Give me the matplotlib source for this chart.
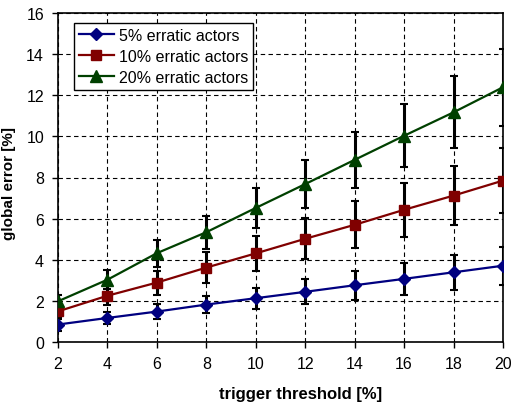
import matplotlib
matplotlib.use("Agg")
import matplotlib.pyplot as plt

plt.rcParams['font.family'] = ['Liberation Sans', 'DejaVu Sans']

thresholds = [2, 4, 6, 8, 10, 12, 14, 16, 18, 20]
err5 = [0.85, 1.17, 1.48, 1.82, 2.13, 2.44, 2.76, 3.07, 3.39, 3.71]
err5_sd = [0.30, 0.31, 0.36, 0.42, 0.52, 0.60, 0.70, 0.77, 0.86, 0.93]
err10 = [1.49, 2.25, 2.89, 3.62, 4.31, 5.02, 5.70, 6.43, 7.12, 7.85]
err10_sd = [0.36, 0.45, 0.58, 0.75, 0.86, 0.99, 1.14, 1.30, 1.42, 1.57]
err20 = [1.98, 3.03, 4.32, 5.34, 6.52, 7.68, 8.86, 10.03, 11.17, 12.39]
err20_sd = [0.30, 0.45, 0.65, 0.80, 0.99, 1.17, 1.37, 1.53, 1.75, 1.87]
labels = ['5% erratic actors', '10% erratic actors', '20% erratic actors']

fig = plt.figure(figsize=(5.13, 4.06), dpi=100)
ax = fig.add_axes([58/513, 1-343/406, 445/513, 329/406])

series = [
    (err5, err5_sd, '#000080', 'D', 6),
    (err10, err10_sd, '#800000', 's', 7),
    (err20, err20_sd, '#004000', '^', 8),
]
handles = []
for (vals, sd, col, mk, ms), lab in zip(series, labels):
    ax.errorbar(thresholds, vals, yerr=sd, fmt='none', ecolor='black',
                elinewidth=2.2, capsize=3, capthick=1.5, zorder=3)
    h, = ax.plot(thresholds, vals, color=col, marker=mk, markersize=ms,
                 linewidth=1.6, label=lab, zorder=4)
    handles.append(h)

ax.set_xlim(2, 20)
ax.set_ylim(0, 16)
ax.set_xticks(thresholds)
ax.set_yticks(range(0, 17, 2))
ax.grid(True, color='black', linestyle=(0, (4, 3)), linewidth=0.8)
ax.set_axisbelow(True)
ax.tick_params(direction='out', length=4, width=1, labelsize=11.5, pad=6)
for s in ax.spines.values():
    s.set_color('black')
    s.set_linewidth(1.2)

ax.set_xlabel('trigger threshold [%]', fontsize=12, fontweight='bold')
ax.xaxis.set_label_coords(0.544, -0.135)
ax.set_ylabel('global error [%]', fontsize=11, fontweight='bold')
ax.yaxis.set_label_coords(-0.095, 0.485)

leg = ax.legend(handles=handles, loc='upper left', bbox_to_anchor=(0.036, 0.97),
                fontsize=11.5, fancybox=False, edgecolor='black', framealpha=1,
                borderpad=0.3, labelspacing=0.38, handlelength=2.2, handletextpad=0.3,
                borderaxespad=0)
leg.get_frame().set_linewidth(1)

fig.savefig('out.png', dpi=100)
